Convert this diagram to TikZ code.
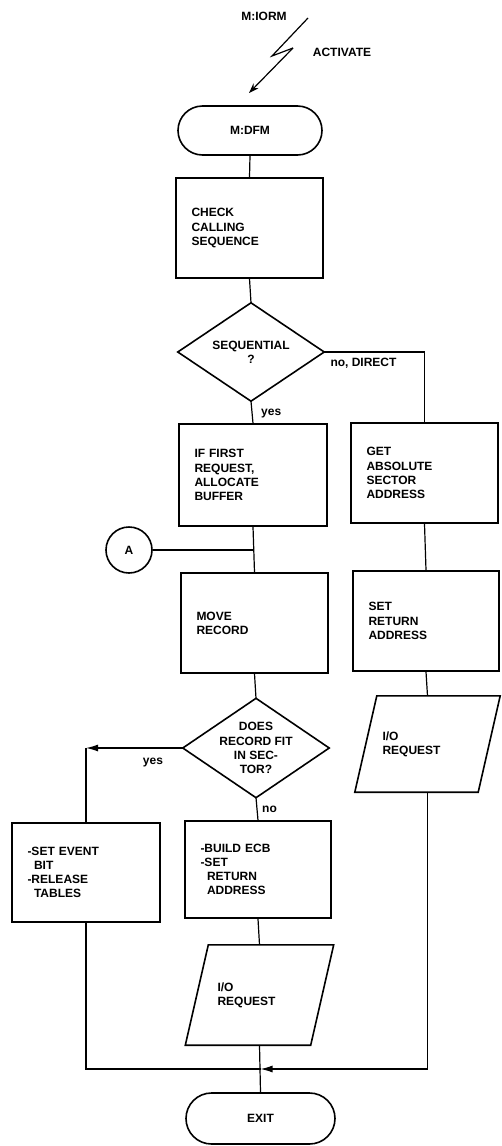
\documentclass[tikz,border=0pt]{standalone}
\usepackage{fontspec}
\setmainfont{Liberation Sans}
\usetikzlibrary{shapes.misc,arrows.meta}
\begin{document}
\begin{tikzpicture}[x=1pt,y=-1pt,
  every node/.style={font=\fontsize{12}{14.2}\selectfont\bfseries},
  boxnode/.style={draw, line width=1.6pt, inner xsep=15.5pt, inner ysep=0pt, text width=116pt, minimum height=100pt, align=left},
  term/.style={draw, rounded rectangle, line width=1.6pt, minimum width=144pt, minimum height=49pt, inner sep=0pt},
  ghost/.style={inner sep=0pt, align=center},
  shapeline/.style={line width=1.6pt, line join=miter},
  conn/.style={line width=1.2pt},
  arrowtip/.style={-{Latex[length=12pt,width=7pt]}},
  lbl/.style={inner sep=0pt}]
\useasboundingbox (0,0) rectangle (501,1146);
\fill[white] (0,0) rectangle (501,1146);

% activation
\node[lbl] (iorm) at (264,16) {M:IORM};
\node[lbl] (activ) at (342,52) {ACTIVATE};
\coordinate (l1) at (308,18);
\coordinate (l2) at (272,56);
\coordinate (l3) at (293,48);
\coordinate (l4) at (249,93);

\node[term] (start) at (250,130.5) {M:DFM};
\node[boxnode, text width=116pt] (check) at (249.5,228) {CHECK\\CALLING\\SEQUENCE};

\node[ghost, minimum width=146pt, minimum height=98pt] (d1) at (251,352) {SEQUENTIAL\\?};
\draw[shapeline] (d1.north) -- (d1.east) -- (d1.south) -- (d1.west) -- cycle;

\node[boxnode, minimum height=102pt, text width=117pt] (first) at (253,475) {IF FIRST\\REQUEST,\\ALLOCATE\\BUFFER};
\node[boxnode] (get) at (424.5,473) {GET\\ABSOLUTE\\SECTOR\\ADDRESS};
\node[draw, circle, line width=1.6pt, minimum size=46pt, inner sep=0pt] (A) at (129,550) {A};

\node[boxnode] (move) at (254.5,623) {MOVE\\RECORD};
\node[boxnode, text width=115pt] (set) at (426,621) {SET\\RETURN\\ADDRESS};

\node[ghost, minimum width=146pt, minimum height=99pt] (d2) at (256,748) {DOES\\RECORD FIT\\IN SEC-\\TOR?};
\draw[shapeline] (d2.north) -- (d2.east) -- (d2.south) -- (d2.west) -- cycle;

\node[ghost, minimum width=123pt, minimum height=96pt, text width=90pt, align=left] (io2) at (427.5,744) {I/O\\REQUEST};
\draw[shapeline] ([xshift=11pt]io2.north west) -- ([xshift=11pt]io2.north east) -- ([xshift=-11pt]io2.south east) -- ([xshift=-11pt]io2.south west) -- cycle;

\node[boxnode, minimum height=99pt, text width=117pt] (setev) at (86,872.5) {-SET EVENT\\\hspace*{6.5pt}BIT\\-RELEASE\\\hspace*{6.5pt}TABLES};
\node[boxnode, minimum height=97pt, text width=115pt] (build) at (258,869.5) {-BUILD ECB\\-SET\\\hspace*{6.5pt}RETURN\\\hspace*{6.5pt}ADDRESS};

\node[ghost, minimum width=125pt, minimum height=100pt, text width=84pt, align=left] (io1) at (259.5,995) {I/O\\REQUEST};
\draw[shapeline] ([xshift=11.5pt]io1.north west) -- ([xshift=11.5pt]io1.north east) -- ([xshift=-11.5pt]io1.south east) -- ([xshift=-11.5pt]io1.south west) -- cycle;

\node[term, minimum width=149pt, minimum height=51pt] (exit) at (260.5,1118.5) {EXIT};

% labels
\node[lbl, anchor=west] (yes1) at (261,414) {yes};
\node[lbl] (nodirect) at (363.5,363) {no, DIRECT};
\node[lbl] (yes2) at (153,763) {yes};
\node[lbl, anchor=west] (no2) at (262,809) {no};

% connectors
\draw[conn] (l1) -- (l2) -- (l3);
\draw[conn, -{Stealth[length=10pt,width=7pt]}] (l3) -- (l4);
\draw[conn] (start.south) -- (check.north);
\draw[conn] (check.south) -- (d1.north);
\draw[conn] (d1.south) -- (first.north);
\draw[conn] (d1.east) -| (get.north);
\draw[conn] (first.south) -- (move.north);
\coordinate (ja) at (first.south |- A.east);
\draw[conn] (A.east) -- (ja);
\draw[conn] (get.south) -- (set.north);
\draw[conn] (move.south) -- (d2.north);
\coordinate (cy) at (setev.north |- d2.west);
\draw[conn, arrowtip] (d2.west) -- (cy);
\draw[conn] (cy) -- (setev.north);
\draw[conn] (d2.south) -- (build.north);
\draw[conn] (set.south) -- (io2.north);
\draw[conn] (build.south) -- (io1.north);
\draw[conn] (io1.south) -- (exit.north);
\coordinate (ybot) at (0,1069);
\coordinate (jb) at (exit.north |- ybot);
\draw[conn] (setev.south) |- (jb);
\draw[conn, arrowtip] (io2.south) |- (jb);
\end{tikzpicture}
\end{document}
